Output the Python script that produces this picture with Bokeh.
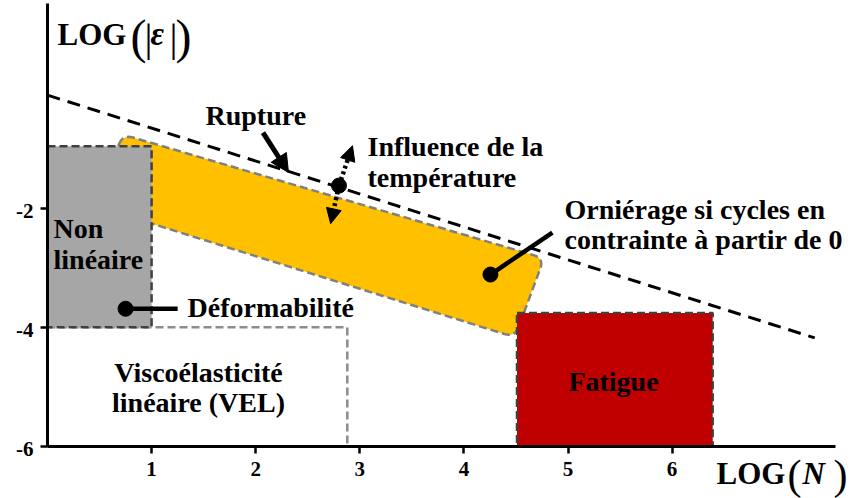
import numpy as np
from bokeh.plotting import figure
from bokeh.models import Label, Arrow, NormalHead, FixedTicker, Range1d
from bokeh.core.properties import value
from bokeh.embed import file_html
from bokeh.resources import INLINE

# ---------------- data ----------------
x_ticks = [1, 2, 3, 4, 5, 6]
x_tick_labels = ["1", "2", "3", "4", "5", "6"]
y_ticks = [-6, -4, -2]
y_tick_labels = ["-6", "-4", "-2"]
x_axis_span = [0.0, 7.57]
y_axis_span = [-6.0, 1.44]

nonlin_x = [0.0, 1.0]          # Non linéaire box
nonlin_y = [-4.0, -0.96]
vel_x = [0.0, 2.88]            # VEL box
vel_y = [-6.0, -4.0]
fatigue_x = [4.51, 6.39]       # Fatigue box
fatigue_y = [-6.0, -3.76]
ornierage_x = [0.72, 4.77, 4.49, 0.474]   # yellow band corners
ornierage_y = [-0.76, -2.84, -4.17, -1.97]
rupture_x = [0.0, 7.37]        # rupture dashed line
rupture_y = [-0.10, -4.18]

rupt_arrow_x = [2.07, 2.315]
rupt_arrow_y = [-0.73, -1.40]
temp_pt = [2.80, -1.62]
temp_up = [2.93, -0.95]
temp_down = [2.72, -2.26]
orn_pt = [4.255, -3.115]
orn_end = [4.85, -2.41]
def_pt = [0.75, -3.69]
def_end = [1.25, -3.69]

# ---------------- geometry helpers ----------------
SX, SY = 104.1, 59.5          # pixels per data unit
X0_PX, Y0_PX = 47.0, 88.7     # canvas pixel of data origin
W, H = 858, 498

def px2x(px):
    return (px - X0_PX) / SX

def px2y(py):
    return (Y0_PX - py) / SY

def rounded(xs, ys, r=11, n=10):
    P = np.column_stack([np.array(xs) * SX, np.array(ys) * SY])
    out = []
    t = np.linspace(0, 1, n)[:, None]
    m = len(P)
    for i in range(m):
        prev, cur, nxt = P[i - 1], P[i], P[(i + 1) % m]
        a = cur + (prev - cur) / np.linalg.norm(prev - cur) * r
        b = cur + (nxt - cur) / np.linalg.norm(nxt - cur) * r
        pts = (1 - t) ** 2 * a + 2 * (1 - t) * t * cur + t ** 2 * b
        out.append(pts)
    Q = np.vstack(out)
    return list(Q[:, 0] / SX), list(Q[:, 1] / SY)

# ---------------- figure ----------------
p = figure(frame_width=W, frame_height=H,
           x_range=Range1d(px2x(0), px2x(W)), y_range=Range1d(px2y(H), px2y(0)),
           output_backend="svg", toolbar_location=None,
           min_border_left=0, min_border_right=0,
           min_border_top=0, min_border_bottom=0,
           background_fill_color="white", border_fill_color="white")
p.outline_line_color = None
p.xgrid.visible = False
p.ygrid.visible = False

FONT = "Liberation Serif"
for axes in (p.xaxis, p.yaxis):
    axes.axis_line_width = 3
    axes.axis_line_color = "black"
    axes.major_tick_line_width = 2.5
    axes.major_tick_line_color = "black"
    axes.major_tick_out = 7
    axes.major_tick_in = 0
    axes.minor_tick_line_color = None
    axes.major_label_text_font_size = "0px"
    axes.major_label_text_alpha = 0
p.xaxis.fixed_location = y_axis_span[0]
p.yaxis.fixed_location = x_axis_span[0]
p.xaxis.bounds = tuple(x_axis_span)
p.yaxis.bounds = tuple(y_axis_span)
p.xaxis.ticker = FixedTicker(ticks=x_ticks)
p.yaxis.ticker = FixedTicker(ticks=y_ticks)
p.xaxis.major_label_overrides = {t: "" for t in x_ticks}
p.yaxis.major_label_overrides = {t: "" for t in y_ticks}

# tick labels (bold serif), placed at the axis ticks
TICK_SIZE = 21
comp = 0.3 * TICK_SIZE
p.text(x=x_ticks, y=[y_axis_span[0]] * len(x_ticks), text=x_tick_labels,
       x_offset=0, y_offset=29.5 - comp,
       text_font=value(FONT), text_font_style="bold", text_font_size=f"{TICK_SIZE}px",
       text_align="center", text_baseline="alphabetic", text_color="black")
p.text(x=[x_axis_span[0]] * len(y_ticks), y=y_ticks, text=y_tick_labels,
       x_offset=-14, y_offset=9 - comp,
       text_font=value(FONT), text_font_style="bold", text_font_size=f"{TICK_SIZE}px",
       text_align="right", text_baseline="alphabetic", text_color="black")

# VEL box
p.quad(left=[vel_x[0]], right=[vel_x[1]], bottom=[vel_y[0]], top=[vel_y[1]],
       fill_color="white", line_color="#8c8c8c", line_width=2.5, line_dash="8 4")

# yellow band
bx, by = rounded(ornierage_x, ornierage_y)
p.patch(bx, by, fill_color="#ffc000", line_color="#808080", line_width=2.5,
        line_dash="8 4")

# Non linéaire box
p.quad(left=[nonlin_x[0]], right=[nonlin_x[1]], bottom=[nonlin_y[0]], top=[nonlin_y[1]],
       fill_color="#a6a6a6", line_color="#404040", line_width=2.5, line_dash="8 4")

# Fatigue box
p.quad(left=[fatigue_x[0]], right=[fatigue_x[1]], bottom=[fatigue_y[0]], top=[fatigue_y[1]],
       fill_color="#c00000", line_color="#404040", line_width=2.5, line_dash="8 4")

# rupture line
p.line(rupture_x, rupture_y, line_color="black", line_width=3, line_dash="13 8")

# annotations
p.add_layout(Arrow(x_start=rupt_arrow_x[0], y_start=rupt_arrow_y[0],
                   x_end=rupt_arrow_x[1], y_end=rupt_arrow_y[1],
                   line_width=5, line_color="black",
                   end=NormalHead(size=18, fill_color="black", line_color="black", line_width=1)))
for tip in (temp_up, temp_down):
    p.add_layout(Arrow(x_start=temp_pt[0], y_start=temp_pt[1], x_end=tip[0], y_end=tip[1],
                       line_width=4.5, line_color="black", line_dash="3 3",
                       end=NormalHead(size=15, fill_color="black", line_color="black", line_width=1)))
p.segment(x0=[orn_pt[0], def_pt[0]], y0=[orn_pt[1], def_pt[1]],
          x1=[orn_end[0], def_end[0]], y1=[orn_end[1], def_end[1]],
          line_color="black", line_width=4.5)
p.scatter([temp_pt[0], orn_pt[0], def_pt[0]], [temp_pt[1], orn_pt[1], def_pt[1]],
          size=15, marker="circle", fill_color="black", line_color="black")

def lab(text, px, py, size=28, style="bold", align="left"):
    # baseline compensation for the label text box
    py = py - 0.3 * size
    p.add_layout(Label(x=px2x(px), y=px2y(py), text=text, text_font=FONT,
                       text_font_size=f"{size}px", text_font_style=style,
                       text_align=align, text_baseline="alphabetic",
                       text_color="black"))

ann = 28
lab("Non", 53, 236, ann)
lab("linéaire", 53, 267, ann)
lab("Rupture", 205, 123, ann)
lab("Influence de la", 367, 154, ann)
lab("température", 367, 185, ann)
lab("Orniérage si cycles en", 564, 217, ann)
lab("contrainte à partir de 0", 564, 247, ann)
lab("Déformabilité", 187, 315, ann)
lab("Viscoélasticité", 198, 380, ann, align="center")
lab("linéaire (VEL)", 198, 410, ann, align="center")
lab("Fatigue", 613, 389, ann, align="center")

# axis titles
lab("LOG", 57, 43, 31)
lab("(", 130, 50, 48, style="normal")
lab("|", 144, 49, 40, style="normal")
lab("ε", 150, 43, 33, style="bold italic")
lab("|", 169, 49, 40, style="normal")
lab(")", 175, 50, 48, style="normal")

lab("LOG", 716, 482, 31)
lab("(", 787, 487, 42, style="normal")
lab("N", 802, 482, 31, style="bold italic")
lab(")", 833, 487, 42, style="normal")

open("out.html", "w").write(file_html(p, INLINE))
